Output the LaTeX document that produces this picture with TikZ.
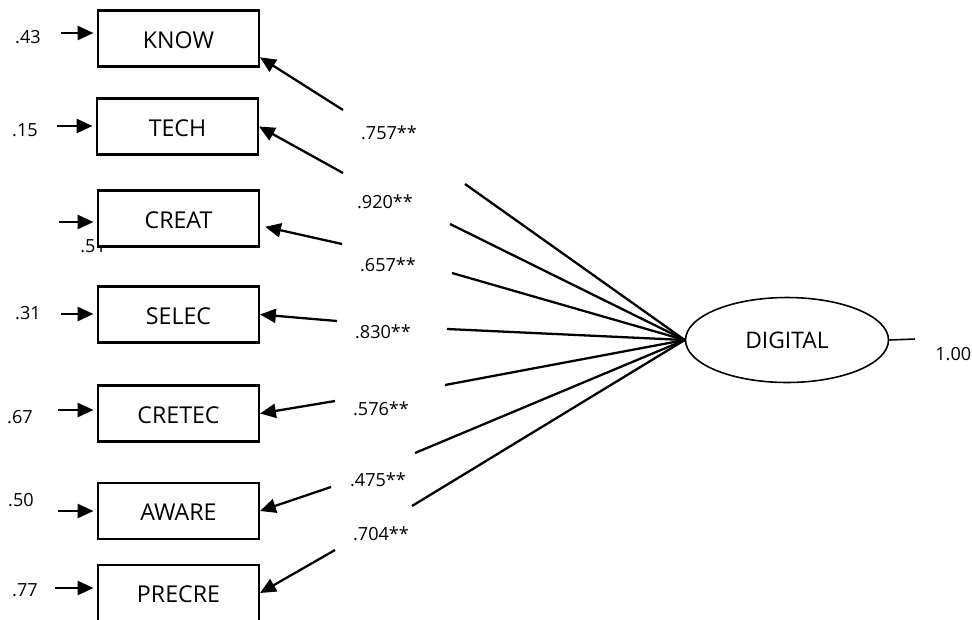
\documentclass[tikz,border=0pt]{standalone}
\usepackage{fontspec}
\setmainfont{Open Sans}
\usetikzlibrary{arrows.meta,shapes.geometric}
\tikzstyle{obsnode}=[rectangle, draw, line width=1.2pt, fill=white, minimum width=3.22cm, minimum height=1.12cm, inner sep=0pt, font=\fontsize{13.2}{15}\selectfont, text height=1.1em, text depth=0pt]
\tikzstyle{latnode}=[ellipse, draw, line width=0.9pt, minimum width=4.06cm, minimum height=1.7cm, inner sep=0pt, font=\fontsize{13}{15}\selectfont]
\tikzstyle{coefnode}=[inner sep=0pt, font=\fontsize{10.3}{12}\selectfont]
\tikzstyle{errnode}=[inner sep=0pt, font=\fontsize{10.3}{12}\selectfont]
\tikzstyle{loadedge}=[-{Triangle[length=9pt,width=8pt]}, line width=1.3pt]
\tikzstyle{plainedge}=[line width=1.3pt]
\begin{document}
\begin{tikzpicture}[x=0.02cm, y=-0.02cm]
        \useasboundingbox (0,0) rectangle (972,619);
        % error terms
        \node[errnode] (e1) at (28,37) {.43};
        \node[errnode] (e2) at (25,130) {.15};
        \node[errnode, anchor=west] (e3) at (80,246) {.51};
        \node[errnode] (e4) at (28,313) {.31};
        \node[errnode] (e5) at (20,417) {.67};
        \node[errnode] (e6) at (21,500) {.50};
        \node[errnode] (e7) at (25,590) {.77};
        % observed variables
        \node[obsnode] (know) at (178.5,38.5) {KNOW};
        \node[obsnode] (tech) at (177.5,126.5) {TECH};
        \node[obsnode] (creat) at (178.5,218.5) {CREAT};
        \node[obsnode] (selec) at (178.5,314.5) {SELEC};
        \node[obsnode] (cretec) at (178.5,413.5) {CRETEC};
        \node[obsnode] (aware) at (178.5,511) {AWARE};
        \node[obsnode] (precre) at (178.5,593) {PRECRE};
        % latent variable
        \node[latnode] (dig) at (787,340) {DIGITAL};
        \node[errnode, anchor=west] (r2) at (935,354) {1.00};
        \coordinate (rend) at (915,339);
        \draw[line width=0.9pt] (dig.east) -- (rend);
        % loadings
        \node[coefnode] (c1) at (389,133) {.757**};
        \node[coefnode] (c2) at (385,202) {.920**};
        \node[coefnode] (c3) at (388,265) {.657**};
        \node[coefnode] (c4) at (383,332) {.830**};
        \node[coefnode] (c5) at (381,409) {.576**};
        \node[coefnode] (c6) at (378,480) {.475**};
        \node[coefnode] (c7) at (381,534) {.704**};
        \coordinate (a1) at (465,184);
        \coordinate (a2) at (450,224);
        \coordinate (a3) at (452,273);
        \coordinate (a4) at (447,329);
        \coordinate (a5) at (445,385);
        \coordinate (a6) at (415,453);
        \coordinate (a7) at (412,506);
        \coordinate (b1) at (343,110);
        \coordinate (b2) at (343,173);
        \coordinate (b3) at (342,244);
        \coordinate (b4) at (337,321);
        \coordinate (b5) at (335,401);
        \coordinate (b6) at (331,487);
        \coordinate (b7) at (335,550);
        \foreach \i in {1,...,7}
          \draw[plainedge] (dig.west) -- (a\i);
        \draw[loadedge] (b1) -- (know.-13);
        \draw[loadedge] (b2) -- (tech.east);
        \draw[loadedge, shorten >=3pt] (b3) -- (creat.-5);
        \draw[loadedge] (b4) -- (selec.east);
        \draw[loadedge] (b5) -- (cretec.east);
        \draw[loadedge] (b6) -- (aware.east);
        \draw[loadedge] (b7) -- (precre.east);
        % error arrows
        \coordinate (t1) at (61,33);
        \coordinate (t2) at (57,126);
        \coordinate (t3) at (59,222);
        \coordinate (t4) at (61,314);
        \coordinate (t5) at (58,410);
        \coordinate (t6) at (58,511);
        \coordinate (t7) at (55,588);
        \draw[loadedge, shorten >=2pt] (t1) -- (t1 -| know.west);
        \draw[loadedge, shorten >=2pt] (t2) -- (t2 -| tech.west);
        \draw[loadedge, shorten >=2pt] (t3) -- (t3 -| creat.west);
        \draw[loadedge, shorten >=2pt] (t4) -- (t4 -| selec.west);
        \draw[loadedge, shorten >=2pt] (t5) -- (t5 -| cretec.west);
        \draw[loadedge, shorten >=2pt] (t6) -- (t6 -| aware.west);
        \draw[loadedge, shorten >=2pt] (t7) -- (t7 -| precre.west);
      \end{tikzpicture}
\end{document}
